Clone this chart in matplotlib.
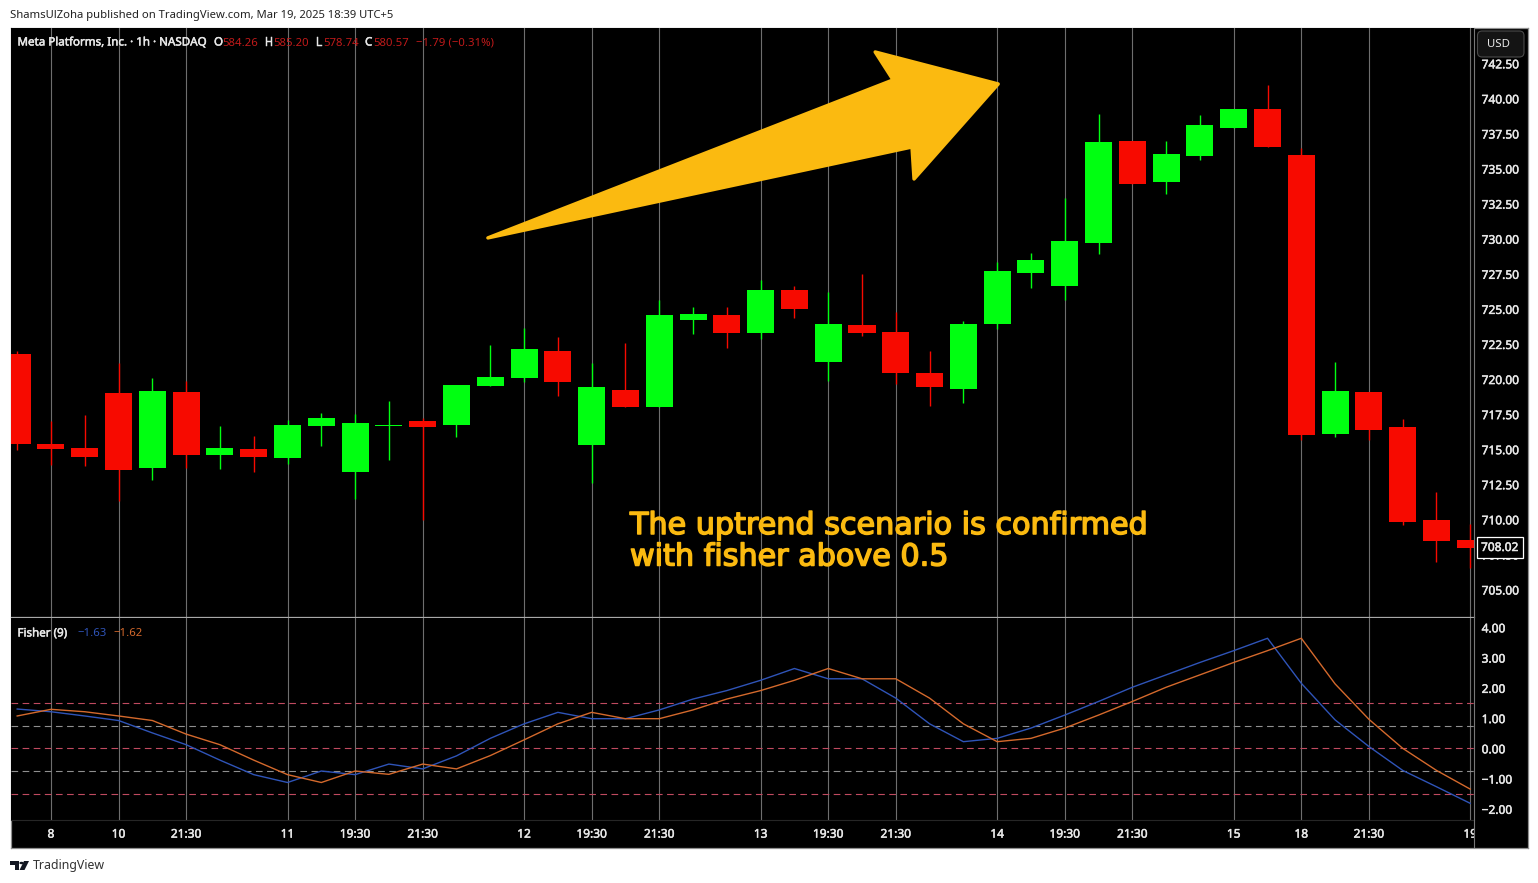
import matplotlib
matplotlib.use("Agg")
import matplotlib.pyplot as plt
import matplotlib.patheffects as pe
from matplotlib.lines import Line2D
from matplotlib.patches import Polygon, Circle, FancyBboxPatch
from matplotlib.transforms import Bbox

W, H = 1538, 883
UP = "#00ff11"
DOWN = "#f70a00"
GRID = "#6e6e6e"
YELLOW = "#fbba10"
BLUE = "#2f54b8"
ORANGE = "#d4692c"

# hourly candles
opens = [721.79, 715.37, 715.11, 719.03, 713.66, 719.10, 714.59, 715.02, 714.38, 716.66, 713.38,
         716.66, 717.01, 716.73, 719.51, 720.08, 722.02, 715.30, 719.22, 718.01, 724.21, 724.57,
         723.29, 726.35, 721.22, 723.86, 723.36, 720.43, 719.29, 723.93, 727.56, 726.64, 729.70,
         736.97, 734.05, 735.90, 737.90, 739.25, 735.97, 716.09, 719.08, 716.59, 709.96, 708.53]
highs = [722.00, 717.01, 717.46, 721.17, 720.10, 719.89, 716.66, 715.94, 717.08, 717.58, 717.51,
         718.44, 717.23, 719.58, 722.43, 723.64, 723.02, 721.15, 722.57, 725.64, 725.16, 725.16,
         727.06, 726.64, 726.21, 727.49, 724.80, 722.00, 724.14, 728.35, 728.99, 732.91, 738.90,
         736.97, 736.97, 738.82, 739.25, 740.96, 736.47, 721.22, 719.08, 717.16, 711.95, 709.67]
lows = [714.95, 713.88, 713.81, 711.31, 712.81, 713.68, 713.59, 713.38, 713.95, 715.23, 711.45,
        714.23, 709.96, 715.89, 719.51, 719.81, 718.80, 712.62, 718.01, 718.01, 723.21, 722.22,
        722.86, 724.35, 719.86, 723.07, 719.65, 718.08, 718.30, 723.57, 726.49, 725.64, 728.92,
        733.91, 733.19, 735.62, 737.90, 736.54, 715.66, 715.90, 715.66, 709.60, 706.99, 706.54]
closes = [715.40, 715.03, 714.47, 713.52, 719.17, 714.59, 715.11, 714.45, 716.75, 717.23, 716.87,
          716.73, 716.59, 719.58, 720.17, 722.17, 719.79, 719.44, 718.01, 724.57, 724.64, 723.29,
          726.35, 725.00, 723.93, 723.29, 720.43, 719.44, 723.93, 727.70, 728.49, 729.84, 736.90,
          733.91, 736.04, 738.11, 739.25, 736.54, 716.02, 719.15, 716.37, 709.81, 708.48, 707.98]

fisher = [1.30, 1.21, 1.07, 0.92, 0.51, 0.12, -0.39, -0.87, -1.13, -0.75, -0.87, -0.52, -0.68, -0.25, 0.33,
          0.81, 1.19, 0.98, 0.98, 1.27, 1.63, 1.91, 2.25, 2.64, 2.30, 2.30, 1.66, 0.81, 0.22, 0.33,
          0.67, 1.10, 1.55, 2.02, 2.43, 2.84, 3.23, 3.64, 2.15, 0.94, 0.06, -0.73, -1.27, -1.82]
trigger = [1.07, 1.29, 1.21, 1.07, 0.92, 0.47, 0.12, -0.39, -0.87, -1.13, -0.75, -0.86, -0.52, -0.68, -0.24,
           0.28, 0.81, 1.19, 0.98, 0.98, 1.27, 1.63, 1.91, 2.25, 2.64, 2.30, 2.30, 1.66, 0.81, 0.22,
           0.33, 0.67, 1.10, 1.55, 2.02, 2.43, 2.84, 3.23, 3.64, 2.13, 0.96, 0.00, -0.73, -1.35]

tick_bars = [1, 3, 5, 8, 10, 12, 15, 17, 19, 22, 24, 26, 29, 31, 33, 36, 38, 40, 43]
tick_names = ["8", "10", "21:30", "11", "19:30", "21:30", "12", "19:30", "21:30", "13", "19:30",
              "21:30", "14", "19:30", "21:30", "15", "18", "21:30", "19"]
price_ticks = [705 + 2.5 * i for i in range(16)]
fisher_ticks = [-2, -1, 0, 1, 2, 3, 4]
fisher_levels = [1.5, 0.75, 0, -0.75, -1.5]
level_colors = ["#c04a60", "#8f8f8f", "#c04a60", "#8f8f8f", "#c04a60"]

# annotation arrow, in bar / price units
arrow_x = [13.93, 25.92, 25.39, 29.03, 26.54, 26.48]
arrow_y = [730.06, 741.32, 743.31, 741.03, 734.26, 736.54]

# a thin outline stands in for the heavier ui font
HEAVY = [pe.withStroke(linewidth=0.35, foreground="#e8e8e8")]


def px_axes(x0, y0, x1, y1, **kw):
    # axes from pixel edges, y counted from the top
    return fig.add_axes([x0 / W, 1 - y1 / H, (x1 - x0) / W, (y1 - y0) / H], **kw)


def label(x, y, s, color="#e8e8e8", size=8.4, family="Noto Sans", **kw):
    return fig.text(x / W, 1 - y / H, s, color=color, fontsize=size,
                    family=family, va="center", ha="left", zorder=10, **kw)


fig = plt.figure(figsize=(W / 100, H / 100), dpi=100, facecolor="white")

back = px_axes(10.5, 27.5, 1527.5, 847.5, facecolor="black", zorder=-1)
back.set_xticks([])
back.set_yticks([])
for s in back.spines.values():
    s.set_color("#8f8f8f")
    s.set_linewidth(0.9)

ax = px_axes(11, 28, 1474, 617, facecolor="black")
ax2 = px_axes(11, 618, 1474, 820, facecolor="black", sharex=ax)

ax.set_xlim(-0.183, 43.11)
ax.set_ylim(703.04, 745.02)
ax2.set_ylim(-2.37, 4.31)

for a in (ax, ax2):
    a.set_axisbelow(True)
    a.set_xticks(tick_bars)
    a.grid(axis="x", color=GRID, linewidth=0.8)
    a.yaxis.tick_right()
    a.tick_params(length=0, colors="#e8e8e8", labelsize=8.6)
    for s in a.spines.values():
        s.set_visible(False)

ax.spines["bottom"].set_visible(True)
ax.spines["bottom"].set_color("#a8a8a8")
ax.spines["bottom"].set_linewidth(0.9)
ax2.spines["bottom"].set_visible(True)
ax2.spines["bottom"].set_color("#262626")
ax2.spines["bottom"].set_linewidth(0.8)

# price scale divider runs the whole height
fig.add_artist(Line2D([1474 / W, 1474 / W], [1 - 847 / H, 1 - 28 / H], color="#777777", linewidth=0.8))

# candles
bars = range(len(opens))
colors = [UP if c >= o else DOWN for o, c in zip(opens, closes)]
ax.vlines(bars, lows, highs, colors=colors, linewidth=1.0, zorder=3)
ax.bar(bars, [abs(c - o) for o, c in zip(opens, closes)],
       bottom=[min(o, c) for o, c in zip(opens, closes)],
       width=0.8, color=colors, linewidth=0, zorder=4)

ax.set_yticks(price_ticks)
ax.set_yticklabels([f"{p:.2f}" for p in price_ticks], family="Noto Sans")
ax.tick_params(axis="x", labelbottom=False)
ax.tick_params(axis="y", pad=5.5)

ax.fill(arrow_x, arrow_y, color=YELLOW, linewidth=2.5, joinstyle="round", zorder=6)

for y, s in [(525.5, "The uptrend scenario is confirmed"), (557, "with fisher above 0.5")]:
    label(630, y, s, color=YELLOW, size=21.75, family="DejaVu Sans",
          path_effects=[pe.withStroke(linewidth=1.1, foreground=YELLOW)])

# fisher pane
for lev, col in zip(fisher_levels, level_colors):
    ax2.axhline(lev, color=col, linewidth=0.8, linestyle=(0, (6, 4)), zorder=2)
ax2.plot(bars, fisher, color=BLUE, linewidth=1.0, zorder=4)
ax2.plot(bars, trigger, color=ORANGE, linewidth=1.0, zorder=5)
ax2.set_yticks(fisher_ticks)
ax2.set_yticklabels([f"{v:.2f}".replace("-", "\u2212") for v in fisher_ticks], family="Noto Sans")
ax2.tick_params(axis="y", pad=5.5)
ax2.set_xticklabels(tick_names, family="Noto Sans", fontsize=8.6)
ax2.tick_params(axis="x", pad=5.5)

for t in ax.get_yticklabels() + ax2.get_yticklabels() + ax2.get_xticklabels():
    t.set_path_effects(HEAVY)

# the last date label is cut by the price scale
clip = Bbox.from_extents(0, H - 847, 1474, H - 820)
for t in ax2.get_xticklabels():
    t.set_clip_on(True)
    t.set_clip_box(clip)

# current price tag over the 707.50 label
label(1481, 547.5, "708.02", size=8.6, path_effects=HEAVY,
      bbox=dict(boxstyle="square,pad=0.35", facecolor="black", edgecolor="white", linewidth=0.9))

# USD button
fig.add_artist(FancyBboxPatch((1477.5 / W, 1 - 57 / H), 46.5 / W, 26 / H, boxstyle="round,pad=0,rounding_size=0.003",
                              transform=fig.transFigure, facecolor="#141414", edgecolor="#4a4a4a",
                              linewidth=0.8, zorder=9, mutation_aspect=W / H))
label(1487, 44.5, "USD", size=8.2)

# header and legend texts
label(10, 15.5, "ShamsUlZoha published on TradingView.com, Mar 19, 2025 18:39 UTC+5", color="#222222", size=8.1)
label(17.5, 43, "Meta Platforms, Inc. \u00b7 1h \u00b7 NASDAQ", size=8.35, path_effects=HEAVY)
for x, s in [(214, "O"), (265, "H"), (316, "L"), (365, "C")]:
    label(x, 43, s, size=8.35, path_effects=HEAVY)
for x, s in [(222, "584.26"), (273, "585.20"), (323, "578.74"), (373, "580.57"), (416, "\u22121.79 (\u22120.31%)")]:
    label(x, 43, s, color="#c01a1a", size=8.2)
label(17.5, 634, "Fisher (9)", size=8.35, path_effects=HEAVY)
label(77, 634, "\u22121.63", color=BLUE, size=8.2)
label(113, 634, "\u22121.62", color=ORANGE, size=8.2)

# logo and footer
fig.add_artist(Polygon([(10 / W, 1 - 861 / H), (19 / W, 1 - 861 / H), (19 / W, 1 - 870 / H), (15 / W, 1 - 870 / H),
                        (15 / W, 1 - 864.5 / H), (10 / W, 1 - 864.5 / H)],
                       transform=fig.transFigure, facecolor="#131722", edgecolor="none"))
fig.add_artist(Polygon([(24 / W, 1 - 861 / H), (29 / W, 1 - 861 / H), (24.5 / W, 1 - 870 / H), (19.5 / W, 1 - 870 / H)],
                       transform=fig.transFigure, facecolor="#131722", edgecolor="none"))
fig.add_artist(Circle((21.5 / W, 1 - 863 / H), 0.0014, transform=fig.transFigure, facecolor="#131722", edgecolor="none"))
label(33, 866, "TradingView", color="#333333", size=8.9)

fig.savefig("out.png", dpi=100, facecolor="white")
